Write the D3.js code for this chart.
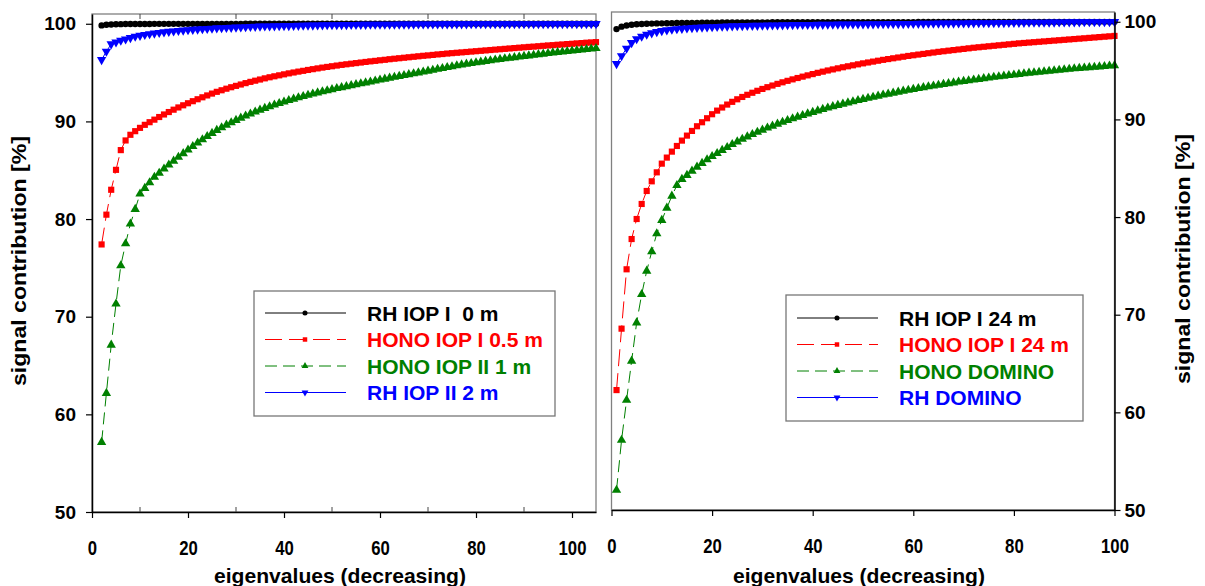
<!DOCTYPE html>
<html><head><meta charset="utf-8">
<script src="https://cdn.jsdelivr.net/npm/d3@7"></script>
<style>
html,body{margin:0;padding:0;background:#fff;}
svg{display:block;}
text{font-family:"Liberation Sans",Arial,sans-serif;font-weight:bold;}
</style></head><body>
<svg id="chart" width="1205" height="586"></svg>
<script>
// ---------------- DATA ----------------
const leftStart = 2;   // first eigenvalue index, left panel
const rightStart = 1;  // first eigenvalue index, right panel
const xTicksLeft = [0,20,40,60,80,100];
const xTicksRight = [0,20,40,60,80,100];
const yTicks = [50,60,70,80,90,100];
const xTitle = "eigenvalues (decreasing)";
const yTitle = "signal contribution [%]";
const legendLeft = ["RH IOP I\u00a0 0 m","HONO IOP I 0.5 m","HONO IOP II 1 m","RH IOP II 2 m"];
const legendRight = ["RH IOP I 24 m","HONO IOP I 24 m","HONO DOMINO","RH DOMINO"];

const rhIop1_0m = [
99.83,99.90,99.93,99.95,99.96,99.97,99.97,99.98,99.98,99.98,
99.98,99.99,99.99,99.99,99.99,99.99,99.99,99.99,99.99,99.99,
99.99,99.99,99.99,99.99,99.99,99.99,99.99,99.99,99.99,99.99,
100,100,100,100,100,100,100,100,100,100,
100,100,100,100,100,100,100,100,100,100,
100,100,100,100,100,100,100,100,100,100,
100,100,100,100,100,100,100,100,100,100,
100,100,100,100,100,100,100,100,100,100,
100,100,100,100,100,100,100,100,100,100,
100,100,100,100,100,100,100,100,100,100,
100,100,100,100];
const honoIop1_05m = [
77.40,80.45,83.00,85.04,87.06,88.05,88.63,89.00,89.34,89.65,
89.92,90.18,90.45,90.71,90.96,91.20,91.43,91.65,91.86,92.07,
92.27,92.47,92.66,92.85,93.03,93.19,93.35,93.50,93.64,93.78,
93.92,94.05,94.17,94.29,94.41,94.52,94.62,94.72,94.82,94.92,
95.01,95.10,95.18,95.27,95.35,95.43,95.51,95.58,95.65,95.72,
95.79,95.85,95.91,95.97,96.03,96.09,96.15,96.20,96.26,96.31,
96.37,96.42,96.47,96.52,96.57,96.62,96.67,96.72,96.76,96.81,
96.86,96.90,96.95,96.99,97.03,97.07,97.11,97.15,97.19,97.23,
97.27,97.31,97.35,97.39,97.43,97.47,97.51,97.55,97.59,97.63,
97.66,97.70,97.74,97.78,97.81,97.85,97.88,97.92,97.95,97.99,
98.02,98.06,98.09,98.12];
const honoIop2_1m = [
57.14,62.16,67.11,71.31,75.24,77.49,79.51,81.01,82.58,83.16,
83.74,84.29,84.70,85.14,85.55,85.95,86.34,86.72,87.09,87.45,
87.80,88.14,88.47,88.79,89.10,89.37,89.63,89.88,90.12,90.35,
90.57,90.78,90.98,91.17,91.35,91.52,91.69,91.85,92.00,92.15,
92.30,92.44,92.57,92.70,92.82,92.94,93.05,93.16,93.27,93.38,
93.48,93.58,93.68,93.78,93.87,93.96,94.05,94.15,94.25,94.35,
94.45,94.54,94.63,94.72,94.81,94.90,94.99,95.08,95.17,95.26,
95.35,95.44,95.53,95.62,95.71,95.80,95.88,95.95,96.02,96.09,
96.16,96.23,96.30,96.37,96.43,96.49,96.55,96.61,96.67,96.73,
96.79,96.85,96.91,96.97,97.03,97.08,97.13,97.18,97.23,97.28,
97.33,97.38,97.43,97.48];
const rhIop2_2m = [
96.31,97.17,97.92,98.12,98.29,98.43,98.57,98.70,98.80,98.88,
98.96,99.03,99.09,99.15,99.20,99.25,99.29,99.33,99.37,99.41,
99.44,99.47,99.50,99.53,99.56,99.58,99.60,99.62,99.64,99.66,
99.68,99.70,99.72,99.74,99.75,99.76,99.77,99.78,99.79,99.80,
99.81,99.82,99.83,99.84,99.85,99.86,99.87,99.88,99.89,99.89,
99.90,99.90,99.91,99.91,99.92,99.92,99.93,99.93,99.93,99.94,
99.94,99.94,99.95,99.95,99.95,99.95,99.96,99.96,99.96,99.96,
99.96,99.97,99.97,99.97,99.97,99.97,99.97,99.98,99.98,99.98,
99.98,99.98,99.98,99.98,99.98,99.98,99.99,99.99,99.99,99.99,
99.99,99.99,99.99,99.99,99.99,99.99,100,100,100,100,
100,100,100,100];

const rhIop1_24m = [
99.25,99.50,99.62,99.70,99.74,99.77,99.79,99.81,99.83,99.84,
99.85,99.86,99.87,99.88,99.88,99.89,99.89,99.90,99.90,99.91,
99.91,99.92,99.92,99.92,99.93,99.93,99.93,99.94,99.94,99.94,
99.94,99.95,99.95,99.95,99.95,99.95,99.95,99.95,99.95,99.95,
99.95,99.95,99.95,99.95,99.95,99.96,99.96,99.96,99.96,99.96,
99.96,99.96,99.96,99.96,99.96,99.96,99.96,99.96,99.96,99.96,
99.97,99.97,99.97,99.97,99.97,99.97,99.97,99.97,99.97,99.97,
99.97,99.97,99.97,99.97,99.97,99.98,99.98,99.98,99.98,99.98,
99.98,99.98,99.98,99.98,99.98,99.98,99.98,99.98,99.98,99.98,
99.99,99.99,99.99,99.99,99.99,99.99,99.99,99.99,99.99,99.99];
const honoIop1_24m = [
62.28,68.57,74.65,77.75,79.80,81.34,82.67,83.66,84.58,85.47,
86.09,86.70,87.28,87.83,88.34,88.82,89.30,89.71,90.12,90.53,
90.90,91.22,91.52,91.80,92.06,92.30,92.52,92.73,92.93,93.12,
93.30,93.47,93.64,93.80,93.95,94.10,94.24,94.38,94.51,94.64,
94.77,94.89,95.01,95.12,95.23,95.34,95.44,95.54,95.64,95.74,
95.83,95.92,96.01,96.10,96.18,96.26,96.34,96.42,96.50,96.57,
96.64,96.71,96.78,96.85,96.92,96.98,97.04,97.10,97.16,97.22,
97.28,97.34,97.39,97.44,97.49,97.54,97.59,97.64,97.69,97.74,
97.79,97.83,97.87,97.91,97.95,97.99,98.03,98.07,98.11,98.15,
98.19,98.23,98.27,98.31,98.35,98.39,98.43,98.47,98.51,98.55];
const honoDomino = [
52.04,57.16,61.26,65.26,69.18,72.09,74.48,76.46,78.30,79.67,
80.93,82.16,83.25,83.87,84.28,84.72,85.13,85.51,85.88,86.22,
86.53,86.84,87.14,87.45,87.72,87.98,88.23,88.47,88.70,88.92,
89.13,89.33,89.53,89.72,89.90,90.08,90.25,90.42,90.58,90.74,
90.89,91.04,91.18,91.32,91.45,91.58,91.71,91.83,91.95,92.07,
92.18,92.29,92.40,92.51,92.61,92.71,92.81,92.91,93.00,93.09,
93.18,93.27,93.36,93.44,93.52,93.60,93.68,93.76,93.84,93.91,
93.98,94.05,94.12,94.19,94.26,94.33,94.39,94.45,94.51,94.57,
94.63,94.69,94.75,94.80,94.85,94.90,94.95,95.00,95.05,95.10,
95.15,95.20,95.24,95.28,95.32,95.36,95.40,95.44,95.48,95.52];
const rhDomino = [
95.70,96.50,97.27,97.85,98.25,98.50,98.70,98.85,98.98,99.08,
99.16,99.22,99.27,99.31,99.35,99.38,99.41,99.44,99.46,99.48,
99.50,99.52,99.54,99.56,99.58,99.59,99.60,99.61,99.62,99.63,
99.64,99.65,99.66,99.67,99.68,99.69,99.70,99.70,99.71,99.71,
99.72,99.72,99.73,99.73,99.74,99.74,99.75,99.75,99.76,99.76,
99.77,99.77,99.78,99.78,99.79,99.79,99.80,99.80,99.81,99.81,
99.82,99.82,99.83,99.83,99.84,99.84,99.85,99.85,99.86,99.86,
99.87,99.87,99.88,99.88,99.89,99.89,99.90,99.90,99.91,99.91,
99.92,99.92,99.93,99.93,99.94,99.94,99.95,99.95,99.96,99.96,
99.97,99.97,99.97,99.98,99.98,99.98,99.99,99.99,99.99,100];

// ---------------- STYLES ----------------
const styles = [
  {color:"#000000", dash:null,   symbol:d3.symbolCircle,   size:32, rot:0},
  {color:"#ff0000", dash:"17,7", symbol:d3.symbolSquare,   size:38, rot:0},
  {color:"#008000", dash:"12,6", symbol:d3.symbolTriangle, size:38, rot:0},
  {color:"#0000ff", dash:null,   symbol:d3.symbolTriangle, size:38, rot:180}
];

const svg = d3.select("#chart");

function panel(cfg){
  const x = d3.scaleLinear().domain(cfg.xDomain).range([cfg.x0, cfg.x1]);
  const y = d3.scaleLinear().domain([50,101]).range([cfg.y0, cfg.y1]);
  const g = svg.append("g");

  // frame (grey)
  g.append("rect").attr("x",cfg.x0).attr("y",cfg.y1)
    .attr("width",cfg.x1-cfg.x0).attr("height",cfg.y0-cfg.y1)
    .attr("fill","none").attr("stroke","#808080").attr("stroke-width",1.3);

  // series
  cfg.series.forEach((vals,k)=>{
    const st = styles[k];
    const pts = vals.map((v,i)=>[cfg.start+i, v]);
    const line = d3.line().x(d=>x(d[0])).y(d=>y(d[1]));
    g.append("path").attr("d",line(pts)).attr("fill","none")
      .attr("stroke",st.color).attr("stroke-width",1)
      .attr("stroke-dasharray",st.dash);
    g.selectAll(null).data(pts).enter().append("path")
      .attr("d",d3.symbol().type(st.symbol).size(st.size)())
      .attr("transform",d=>`translate(${x(d[0])},${y(d[1])}) rotate(${st.rot})`)
      .attr("fill",st.color);
  });

  // bottom axis
  const xa = g.append("g").attr("transform",`translate(0,${cfg.y0})`)
    .call(d3.axisBottom(x).tickValues(cfg.xTicks).tickSize(6).tickSizeOuter(0).tickPadding(23));
  xa.select(".domain").attr("stroke","#000").attr("stroke-width",1.5);
  xa.selectAll(".tick line").attr("stroke","#000").attr("stroke-width",1.2);
  xa.selectAll("text").attr("font-size",20).attr("fill","#000")
    .attr("textLength",function(){ return this.textContent.length*9.3; })
    .attr("lengthAdjust","spacingAndGlyphs");

  if(cfg.minor){
    const mx = g.append("g");
    mx.selectAll(null).data(cfg.minor).enter().append("line")
      .attr("x1",d=>x(d)).attr("x2",d=>x(d)).attr("y1",cfg.y0).attr("y2",cfg.y0-5)
      .attr("stroke","#444").attr("stroke-width",1);
    mx.selectAll(null).data(cfg.minor).enter().append("line")
      .attr("x1",d=>x(d)).attr("x2",d=>x(d)).attr("y1",cfg.y1).attr("y2",cfg.y1+5)
      .attr("stroke","#444").attr("stroke-width",1);
  }

  // y axis
  let ya;
  if(cfg.yRight){
    ya = g.append("g").attr("transform",`translate(${cfg.x1},0)`)
      .call(d3.axisRight(y).tickValues(yTicks).tickSize(6).tickSizeOuter(0).tickPadding(4));
  } else {
    ya = g.append("g").attr("transform",`translate(${cfg.x0},0)`)
      .call(d3.axisLeft(y).tickValues(yTicks).tickSize(6).tickSizeOuter(0).tickPadding(10));
  }
  ya.select(".domain").attr("stroke","#000").attr("stroke-width",1.5);
  ya.selectAll(".tick line").attr("stroke","#000").attr("stroke-width",1.2);
  ya.selectAll("text").attr("font-size",19).attr("fill","#000");

  // titles
  g.append("text").attr("x",(cfg.x0+cfg.x1)/2 - 4).attr("y",583)
    .attr("text-anchor","middle").attr("font-size",21)
    .attr("textLength",252).attr("lengthAdjust","spacingAndGlyphs").text(xTitle);
  g.append("text").attr("transform",`translate(${cfg.yTitleX},${(cfg.y0+cfg.y1)/2 - 2}) rotate(-90)`)
    .attr("text-anchor","middle").attr("font-size",20)
    .attr("textLength",250).attr("lengthAdjust","spacingAndGlyphs").text(yTitle);

  // legend
  const L = cfg.legend;
  g.append("rect").attr("x",L.x).attr("y",L.y).attr("width",L.w).attr("height",L.h)
    .attr("fill","#fff").attr("stroke","#777").attr("stroke-width",1.3);
  L.labels.forEach((lab,k)=>{
    const st = styles[k];
    const yy = L.y + L.row0 + k*L.dy;
    g.append("line").attr("x1",L.x+11).attr("x2",L.x+92).attr("y1",yy).attr("y2",yy)
      .attr("stroke",st.color).attr("stroke-width",1).attr("stroke-dasharray",st.dash);
    g.append("path").attr("d",d3.symbol().type(st.symbol).size(20)())
      .attr("transform",`translate(${L.x+51},${yy}) rotate(${st.rot})`).attr("fill",st.color);
    g.append("text").attr("x",L.x+113).attr("y",yy).attr("dy","0.36em")
      .attr("font-size",21).attr("fill",st.color).text(lab);
  });
}

panel({
  xDomain:[0,105], x0:92, x1:596, y0:512, y1:14, start:leftStart,
  xTicks:xTicksLeft, minor:[10,30,50,70,90],
  series:[rhIop1_0m, honoIop1_05m, honoIop2_1m, rhIop2_2m],
  yRight:false, yTitleX:26,
  legend:{x:254,y:291,w:301,h:125,row0:22,dy:26.5,labels:legendLeft}
});
panel({
  xDomain:[0,100], x0:611.5, x1:1114.5, y0:510, y1:12, start:rightStart,
  xTicks:xTicksRight, minor:null,
  series:[rhIop1_24m, honoIop1_24m, honoDomino, rhDomino],
  yRight:true, yTitleX:1190,
  legend:{x:786,y:295,w:297,h:126,row0:23,dy:26.5,labels:legendRight}
});
</script>
</body></html>
